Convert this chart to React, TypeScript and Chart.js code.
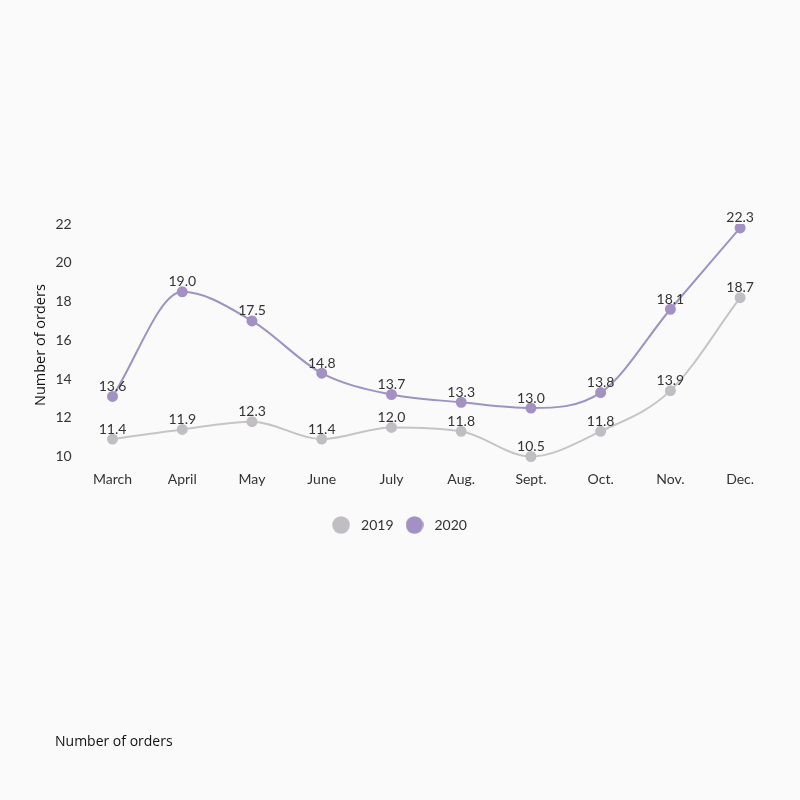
import React, { useEffect, useRef } from "react";
import { Chart, registerables } from "chart.js";

Chart.register(...registerables);

const months = ["March", "April", "May", "June", "July", "Aug.", "Sept.", "Oct.", "Nov.", "Dec."];
const orders2019 = [11.4, 11.9, 12.3, 11.4, 12.0, 11.8, 10.5, 11.8, 13.9, 18.7];
const orders2020 = [13.6, 19.0, 17.5, 14.8, 13.7, 13.3, 13.0, 13.8, 18.1, 22.3];
const yTickValues = [10, 12, 14, 16, 18, 20, 22];
const axisTitle = "Number of orders";
const captionText = "Number of orders";
const seriesColors = ["#c0bec2", "#a391c4"];
const lineColors = ["#c6c4c8", "#9d93c2"];

function circleImage(color: string) {
  const c = document.createElement("canvas");
  c.width = 18;
  c.height = 18;
  const g = c.getContext("2d")!;
  g.fillStyle = color;
  g.beginPath();
  g.arc(9, 9, 8.8, 0, Math.PI * 2);
  g.fill();
  return c;
}

const valueLabels = {
  id: "valueLabels",
  afterDatasetsDraw(chart: any) {
    const ctx = chart.ctx;
    ctx.save();
    ctx.font = "14px Lato";
    ctx.fillStyle = "#333333";
    ctx.textAlign = "center";
    ctx.textBaseline = "middle";
    chart.data.datasets.forEach((ds: any, i: number) => {
      const meta = chart.getDatasetMeta(i);
      meta.data.forEach((pt: any, j: number) => {
        ctx.fillText(Number(ds.data[j]).toFixed(1), pt.x, pt.y - 10);
      });
    });
    ctx.restore();
  },
};

const legendShift = {
  id: "legendShift",
  afterUpdate(chart: any) {
    if (chart.legend) {
      chart.legend.left -= 4;
      chart.legend.right -= 4;
    }
  },
};

const bg = {
  id: "bg",
  beforeDraw(chart: any) {
    const ctx = chart.ctx;
    ctx.save();
    ctx.fillStyle = "#fbfafb";
    ctx.fillRect(0, 0, chart.width, chart.height);
    ctx.restore();
  },
};

export default function App() {
  const ref = useRef<HTMLCanvasElement>(null);
  useEffect(() => {
    const images = seriesColors.map(circleImage);
    const chart = new Chart(ref.current!, {
      type: "line",
      data: {
        labels: months,
        datasets: [
          {
            label: "2019",
            data: orders2019,
            borderColor: lineColors[0],
            backgroundColor: seriesColors[0],
            pointBackgroundColor: seriesColors[0],
            pointBorderColor: seriesColors[0],
            borderWidth: 2,
            pointRadius: 4.5,
            cubicInterpolationMode: "monotone",
          },
          {
            label: "2020",
            data: orders2020,
            borderColor: lineColors[1],
            backgroundColor: seriesColors[1],
            pointBackgroundColor: seriesColors[1],
            pointBorderColor: seriesColors[1],
            borderWidth: 2,
            pointRadius: 4.5,
            cubicInterpolationMode: "monotone",
          },
        ],
      },
      options: {
        animation: false,
        responsive: false,
        layout: { padding: { left: 28, right: 25, top: 224, bottom: 258 } },
        plugins: {
          legend: {
            position: "bottom",
            labels: {
              usePointStyle: true,
              pointStyleWidth: 26,
              boxHeight: 14,
              font: { family: "Lato", size: 14 },
              color: "#333333",
              padding: 8,
              generateLabels: (c: any) => {
                const items = Chart.defaults.plugins.legend.labels.generateLabels(c);
                return items.map((it: any, i: number) => ({ ...it, pointStyle: images[i] }));
              },
            },
          },
          title: { display: false },
          tooltip: { enabled: false },
        },
        scales: {
          x: {
            offset: true,
            grid: { display: false, drawTicks: false },
            border: { display: false },
            ticks: { font: { family: "Lato", size: 14 }, color: "#333333", padding: 5 },
            afterFit: (scale: any) => {
              scale.height += 17;
            },
          },
          y: {
            min: 10,
            max: 22.5,
            grid: { display: false, drawTicks: false },
            border: { display: false },
            afterBuildTicks: (scale: any) => {
              scale.ticks = yTickValues.map((v) => ({ value: v }));
            },
            ticks: {
              font: { family: "Lato", size: 14 },
              color: "#333333",
              padding: 6,
              labelOffset: -9.6,
            },
            title: {
              display: true,
              text: axisTitle,
              color: "#111111",
              font: { family: "'Open Sans'", size: 14.5 },
              padding: { top: 4, bottom: 0 },
            },
          },
        },
      },
      plugins: [bg, valueLabels, legendShift],
    });
    return () => chart.destroy();
  }, []);
  return (
    <div style={{ position: "fixed", left: 0, top: 0, width: 800, height: 800, background: "#fbfafb" }}>
      <canvas ref={ref} width={800} height={800} style={{ display: "block" }} />
      <div
        style={{
          position: "absolute",
          left: 55,
          top: 731,
          fontFamily: "'Open Sans'",
          fontSize: 14,
          lineHeight: "20px",
          color: "#111111",
          whiteSpace: "nowrap",
        }}
      >
        {captionText}
      </div>
    </div>
  );
}
